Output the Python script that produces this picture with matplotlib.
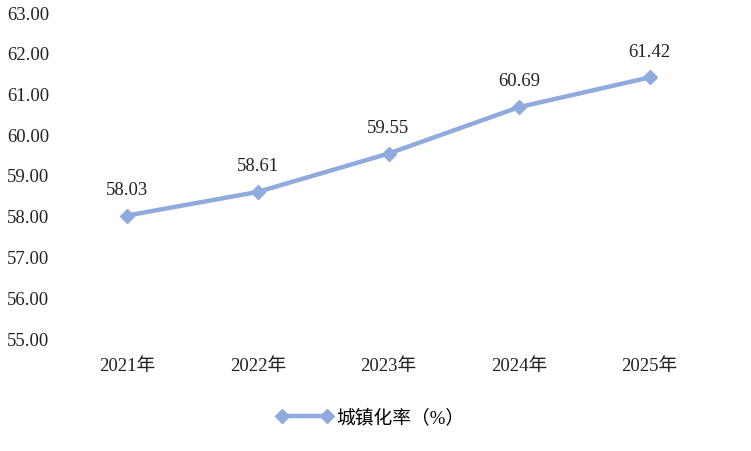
import matplotlib
matplotlib.use("Agg")
import matplotlib.pyplot as plt
from matplotlib.lines import Line2D

years = ["2021年", "2022年", "2023年", "2024年", "2025年"]
rates = [58.03, 58.61, 59.55, 60.69, 61.42]
series_name = "城镇化率（%）"

plt.rcParams['font.family'] = ['Liberation Serif', 'Noto Sans CJK SC']
color = "#8FAADC"

fig = plt.figure(figsize=(7.51, 4.51), dpi=100)
ax = fig.add_axes([62/751, 1-339/451, (715-62)/751, (339-13)/451])
x = list(range(len(years)))
ax.plot(x, rates, color=color, lw=3.2, marker="D", ms=7, mfc=color, mec=color)
for xi, v in zip(x, rates):
    ax.annotate(f"{v:.2f}", (xi, v), xytext=(0, 12), textcoords="offset points",
                ha="center", va="bottom", fontsize=13.5, color="#222222")
ax.set_xlim(-0.5, len(years)-0.5)
ax.set_ylim(55, 63)
ax.set_yticks([55+i for i in range(9)])
ax.set_yticklabels([f"{55+i:.2f}" for i in range(9)])
ax.set_xticks(x)
ax.set_xticklabels(years)
for s in ax.spines.values():
    s.set_visible(False)
ax.tick_params(axis="both", length=0, labelsize=13.5, colors="#222222")
ax.tick_params(axis="y", pad=9)
ax.tick_params(axis="x", pad=14)

h = Line2D([], [], color=color, lw=3.2, marker="D", ms=7)
fig.legend([h], [series_name], loc="center", bbox_to_anchor=(370/751, 1-418/451),
           frameon=False, fontsize=13.5, handlelength=3, handletextpad=0.2,
           numpoints=2)
fig.savefig("out.png", dpi=100)
